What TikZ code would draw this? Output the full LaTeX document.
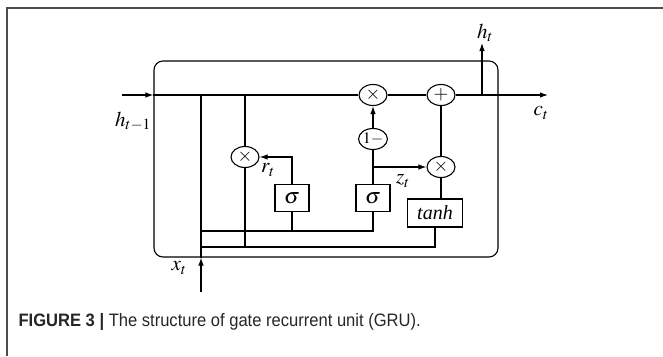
\documentclass[tikz,border=0pt]{standalone}
\usepackage{mathptmx}
\usepackage{fontspec}
\setmainfont{Liberation Serif}
\newfontfamily\capfont[FakeStretch=0.92]{Liberation Sans}
\usetikzlibrary{arrows.meta, positioning, shapes.geometric}

\begin{document}
\begin{tikzpicture}[
  x=1pt, y=-1pt, line width=1.1pt,
  op/.style={draw, ellipse, minimum width=28pt, minimum height=21pt, inner sep=0pt,
             font=\fontsize{19}{20}\selectfont},
  gate/.style={draw, minimum width=34pt, minimum height=27pt, inner sep=0pt,
               font=\fontsize{22}{24}\selectfont},
  lbl/.style={font=\fontsize{21}{24}\selectfont, inner sep=0pt},
  arr/.style={-{Latex[length=8pt, width=5.5pt]}}
]
\useasboundingbox (0,0) rectangle (663,356);
% page frame
\draw[line width=1.4pt, black!70] (663,8) -- (7,8) -- (7,356);

% cell
\node[draw, rounded corners=9pt, minimum width=344pt, minimum height=196pt] (cell) at (326,159) {};

% operators and gates
\node[op] (m1) at (373,95) {$\times$};
\node[op] (add) at (441,95) {$+$};
\node[op] (mr) at (245,157) {$\times$};
\node[op, font=\fontsize{16}{18}\selectfont] (one) at (373,139) {$1-$};
\node[op] (mz) at (441,167) {$\times$};
\node[gate] (sr) at (292,198) {$\sigma$};
\node[gate] (sz) at (373,198) {$\sigma$};
\node[gate, minimum width=55pt, minimum height=28pt, font=\fontsize{20}{22}\selectfont]
  (th) at (435,213) {\textit{tanh}};

\coordinate (hin) at (122,95);
\coordinate (hout) at (548,95);
\coordinate (ht) at (482,43);
\coordinate (xin) at (201,292);
\coordinate (b1) at (201,231);
\coordinate (b2) at (201,247);

% labels
\node[lbl] (lh) at (133,121) {$h_{t-1}$};
\node[lbl] (lc) at (541,113) {$c_t$};
\node[lbl] (lht) at (485,33) {$h_t$};
\node[lbl] (lx) at (179,268) {$x_t$};
\node[lbl] (lr) at (268,170) {$r_t$};
\node[lbl] (lz) at (403,181) {$z_t$};

% main line
\draw[arr] (hin) -- (hin -| cell.west);
\draw (hin -| cell.west) -- (m1);
\draw (m1) -- (add);
\draw[arr] (add) -- (hout);
\draw[arr] (add -| ht) -- (ht);

% reset gate
\draw (mr) -- (mr |- m1);
\draw[arr] (sr.north) |- (mr.east);
\draw (mr) -- (mr |- b2);

% update gate
\draw (sz.north) -- (one.south);
\draw[arr] (one) -- (m1);
\draw[arr] (sz.north |- mz) -- (mz.west);
\draw (mz) -- (add);
\draw (mz) -- (mz |- th.north);

% input x_t
\draw[arr] (xin) -- (xin |- cell.south);
\draw (xin |- cell.south) -- (xin |- hin);
\draw (b1) -| (sz.south);
\draw (sr.south) -- (sr.south |- b1);
\draw (b2) -| (th.south);

% caption
\node[anchor=west, inner sep=0pt, text=black!85, font=\capfont\fontsize{18}{20}\selectfont]
  (cap) at (18,322) {\textbf{FIGURE 3 |} The structure of gate recurrent unit (GRU).};
\end{tikzpicture}
\end{document}
